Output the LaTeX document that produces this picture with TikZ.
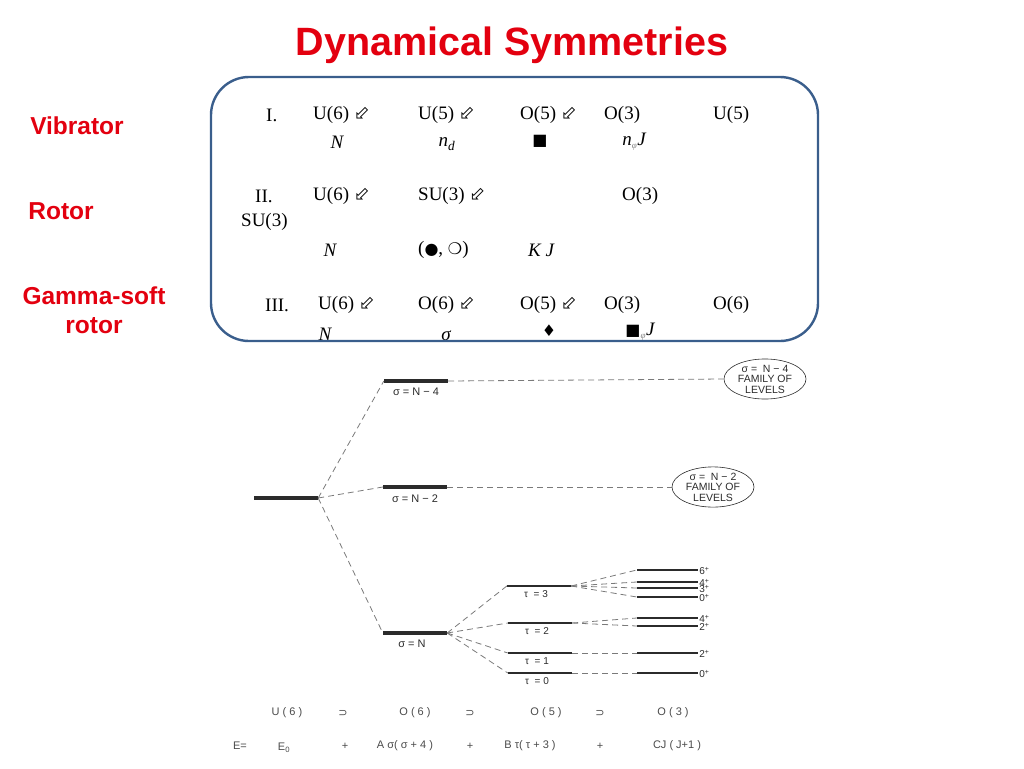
\documentclass[tikz,border=0pt]{standalone}
\usepackage{fontspec}
\setmainfont{Liberation Serif}
\setsansfont{Liberation Sans}
\newfontfamily\symfont{DejaVu Sans}
\usetikzlibrary{positioning,shapes.geometric}
\definecolor{titlered}{HTML}{E3000F}
\definecolor{boxblue}{HTML}{3A5E8C}
\definecolor{lvlink}{HTML}{2B2B2B}
\definecolor{dashgray}{HTML}{7A7A7A}
\definecolor{scanink}{HTML}{4A4A4A}
\newcommand{\incl}{{\symfont\fontsize{19}{19}\selectfont ⬃}}
\newcommand{\nsub}{\textsubscript{\color{gray}\fontsize{9}{9}\selectfont φ}}
\newcommand{\glyph}[1]{{\symfont\fontsize{16}{16}\selectfont #1}}

\begin{document}
\begin{tikzpicture}[x=1pt,y=-1pt,
  heading/.style={font=\sffamily\bfseries\fontsize{39.5}{42}\selectfont,text=titlered,inner sep=0},
  kind/.style={font=\sffamily\bfseries\fontsize{24.5}{29}\selectfont,text=titlered,align=center,inner sep=0},
  grp/.style={anchor=west,inner sep=0,font=\fontsize{19}{22}\selectfont},
  qn/.style={inner sep=0,font=\itshape\fontsize{19}{22}\selectfont},
  mainlvl/.style={fill=lvlink,minimum width=64pt,minimum height=4pt,inner sep=0},
  taulvl/.style={fill=lvlink,minimum width=64pt,minimum height=2pt,inner sep=0},
  spinlvl/.style={fill=lvlink,minimum width=61pt,minimum height=1.1pt,inner sep=0},
  lbl/.style={font=\sffamily\fontsize{11}{12}\selectfont,text=lvlink,inner sep=0},
  spinlab/.style={font=\sffamily\fontsize{10}{10}\selectfont,text=lvlink,inner sep=0,anchor=west},
  family/.style={ellipse,draw=lvlink,line width=.6pt,minimum width=82pt,minimum height=38pt,inner sep=0,align=center,font=\sffamily\fontsize{10.5}{10.5}\selectfont,text=lvlink},
  link/.style={draw=dashgray,dash pattern=on 6pt off 4pt,line width=.8pt},
  chain/.style={font=\sffamily\fontsize{11}{12}\selectfont,text=scanink,inner sep=0}
]
  \useasboundingbox (0,0) rectangle (1024,768);

  \node[heading] (title) at (512,45) {Dynamical Symmetries};
  \node[kind] (vib) at (77,126) {Vibrator};
  \node[kind] (rot) at (61,211) {Rotor};
  \node[kind] (gsoft) at (94,310) {Gamma-soft\\rotor};

  % chains of subgroups, clipped by the panel
  \begin{scope}
    \clip[rounded corners=38pt] (211,77) rectangle (818,341);
    \node[grp] (r1a) at (266,115) {I.};
    \node[grp] (r1b) at (313,115) {U(6) \incl};
    \node[grp] (r1c) at (418,115) {U(5) \incl};
    \node[grp] (r1d) at (520,115) {O(5) \incl};
    \node[grp] (r1e) at (604,115) {O(3)};
    \node[grp] (r1f) at (713,115) {U(5)};
    \node[qn] (q1a) at (337,142) {N};
    \node[qn] (q1b) at (447,144) {n\textsubscript{d}};
    \node[qn] (q1c) at (540,141) {\glyph{■}};
    \node[qn] (q1d) at (634,142) {n\nsub J};

    \node[grp] (r2a) at (255,196) {II.};
    \node[grp] (r2b) at (313,196) {U(6) \incl};
    \node[grp] (r2c) at (418,196) {SU(3) \incl};
    \node[grp] (r2d) at (622,196) {O(3)};
    \node[grp] (r2e) at (241,222) {SU(3)};
    \node[qn] (q2a) at (330,250) {N};
    \node[grp] (q2b) at (418,250) {(\glyph{●}, \glyph{❍})};
    \node[qn] (q2c) at (541,250) {K J};

    \node[grp] (r3a) at (265,305) {III.};
    \node[grp] (r3b) at (318,305) {U(6) \incl};
    \node[grp] (r3c) at (418,305) {O(6) \incl};
    \node[grp] (r3d) at (520,305) {O(5) \incl};
    \node[grp] (r3e) at (604,305) {O(3)};
    \node[grp] (r3f) at (713,305) {O(6)};
    \node[qn] (q3a) at (325,334) {N};
    \node[qn] (q3b) at (446,336) {σ};
    \node[qn] (q3c) at (549,331) {\glyph{♦}};
    \node[qn] (q3d) at (640,332) {\glyph{■}\nsub J};
  \end{scope}
  \node[draw=boxblue,line width=2.4pt,rounded corners=38pt,minimum width=607pt,minimum height=264pt] (panel) at (514.5,209) {};

  % level scheme
  \node[mainlvl] (g0) at (286,498) {};
  \node[mainlvl] (n4) at (416,381) {};
  \node[mainlvl] (n2) at (415,487) {};
  \node[mainlvl] (n0) at (415,633) {};
  \node[lbl,below=5pt of n4] (n4t) {σ = N − 4};
  \node[lbl,below=5pt of n2] (n2t) {σ = N − 2};
  \node[lbl,below=5pt of n0,xshift=-3pt] (n0t) {σ = N};
  \node[family] (ell4) at (765,379) {σ =\ \ N − 4\\FAMILY OF\\LEVELS};
  \node[family] (ell2) at (713,487) {σ = \ N − 2\\FAMILY OF\\LEVELS};

  \node[taulvl] (t3) at (539,586) {};
  \node[taulvl] (t2) at (540,623) {};
  \node[taulvl] (t1) at (540,653) {};
  \node[taulvl] (t0) at (540,673) {};
  \foreach \t in {3,2,1,0}
    \node[lbl,font=\sffamily\fontsize{10}{11}\selectfont,below=3pt of t\t,xshift=-3pt] (t\t t) {τ \ = \t};

  \foreach \nm/\yy/\spin in {j6/570/6,j4/582/4,j3/588/3,j0/597/0,k4/618/4,k2/626/2,m2/653/2,m0/673/0}{
    \node[spinlvl] (\nm) at (667.5,\yy) {};
    \node[spinlab,right=1pt of \nm,yshift=-1pt] (\nm t) {\spin\textsuperscript{+}};
  }

  \draw[link] (g0.east) -- (n4.west);
  \draw[link] (g0.east) -- (n2.west);
  \draw[link] (g0.east) -- (n0.west);
  \draw[link] (n4.east) -- (ell4.west);
  \draw[link] (n2.east) -- (ell2.west);
  \foreach \t in {3,2,1,0}
    \draw[link] (n0.east) -- (t\t.west);
  \foreach \j in {j6,j4,j3,j0}
    \draw[link] (t3.east) -- (\j.west);
  \foreach \j in {k4,k2}
    \draw[link] (t2.east) -- (\j.west);
  \draw[link] (t1.east) -- (m2.west);
  \draw[link] (t0.east) -- (m0.west);

  % group chain and energy formula
  \node[chain] (u6) at (287,713) {U ( 6 )};
  \node[chain] (s1) at (343,713) {\symfont ⊃};
  \node[chain] (o6) at (415,713) {O ( 6 )};
  \node[chain] (s2) at (470,713) {\symfont ⊃};
  \node[chain] (o5) at (546,713) {O ( 5 )};
  \node[chain] (s3) at (600,713) {\symfont ⊃};
  \node[chain] (o3) at (673,713) {O ( 3 )};

  \node[chain] (en) at (240,746) {E=};
  \node[chain] (e0) at (284,748) {E\textsubscript{0}};
  \node[chain] (p1) at (345,746) {+};
  \node[chain] (ea) at (405,746) {A σ( σ + 4 )};
  \node[chain] (p2) at (470,746) {+};
  \node[chain] (eb) at (530,746) {B τ( τ + 3 )};
  \node[chain] (p3) at (600,746) {+};
  \node[chain] (ec) at (677,746) {CJ ( J+1 )};
\end{tikzpicture}
\end{document}
